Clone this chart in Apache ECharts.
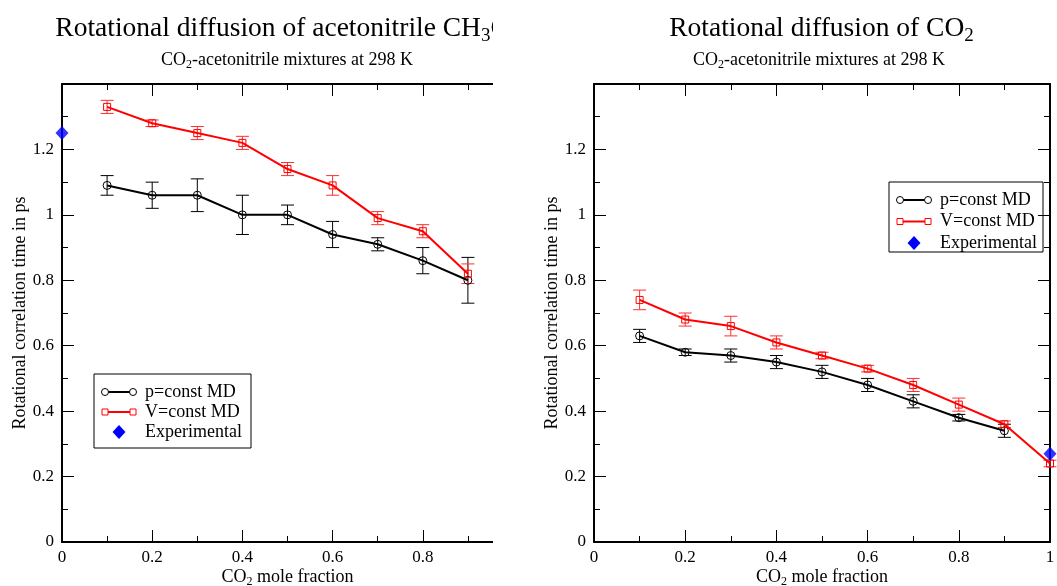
<!DOCTYPE html>
<html>
<head>
<meta charset="utf-8">
<title>Rotational diffusion</title>
<script src="https://cdn.jsdelivr.net/npm/echarts@6/dist/echarts.min.js"></script>
<style>
body{margin:0;background:#fff;}
#leftWrap{position:absolute;left:0;top:0;width:493px;height:586px;overflow:hidden;}
#left{width:530px;height:586px;}
#right{position:absolute;left:530px;top:0;width:527px;height:586px;}
</style>
</head>
<body>
<div id="leftWrap"><div id="left"></div></div>
<div id="right"></div>
<script>
// acetonitrile panel
var xMD = [0.1, 0.2, 0.3, 0.4, 0.5, 0.6, 0.7, 0.8, 0.9];
var acnP = [1.09, 1.06, 1.06, 1.00, 1.00, 0.94, 0.91, 0.86, 0.80];
var acnPErr = [0.03, 0.04, 0.05, 0.06, 0.03, 0.04, 0.02, 0.04, 0.07];
var acnV = [1.33, 1.28, 1.25, 1.22, 1.14, 1.09, 0.99, 0.95, 0.82];
var acnVErr = [0.02, 0.01, 0.02, 0.02, 0.02, 0.03, 0.02, 0.02, 0.03];
var acnExpX = [0];
var acnExp = [1.25];

// CO2 panel
var co2P = [0.63, 0.58, 0.57, 0.55, 0.52, 0.48, 0.43, 0.38, 0.34];
var co2PErr = [0.02, 0.01, 0.02, 0.02, 0.02, 0.02, 0.02, 0.01, 0.02];
var xV2 = [0.1, 0.2, 0.3, 0.4, 0.5, 0.6, 0.7, 0.8, 0.9, 1.0];
var co2V = [0.74, 0.68, 0.66, 0.61, 0.57, 0.53, 0.48, 0.42, 0.36, 0.24];
var co2VErr = [0.03, 0.02, 0.03, 0.02, 0.01, 0.01, 0.02, 0.02, 0.01, 0.01];
var co2ExpX = [1];
var co2Exp = [0.27];

var legendNames = ['p=const MD', 'V=const MD', 'Experimental'];

var FONT = 'Liberation Serif';

function pairs(xs, ys) {
    var out = [];
    for (var i = 0; i < ys.length; i++) out.push([xs[i], ys[i]]);
    return out;
}

function errBars(xs, ys, es, color) {
    var d = [];
    for (var i = 0; i < ys.length; i++) d.push([xs[i], ys[i] - es[i], ys[i] + es[i]]);
    return {
        type: 'custom', data: d, silent: true, z: 2, clip: false,
        encode: {x: 0, y: [1, 2]},
        renderItem: function (params, api) {
            var lo = api.coord([api.value(0), api.value(1)]);
            var hi = api.coord([api.value(0), api.value(2)]);
            var w = 6.5, st = {stroke: color, lineWidth: 1};
            return {type: 'group', children: [
                {type: 'line', shape: {x1: lo[0], y1: lo[1], x2: hi[0], y2: hi[1]}, style: st},
                {type: 'line', shape: {x1: lo[0] - w, y1: lo[1], x2: lo[0] + w, y2: lo[1]}, style: st},
                {type: 'line', shape: {x1: hi[0] - w, y1: hi[1], x2: hi[0] + w, y2: hi[1]}, style: st}
            ]};
        }
    };
}

function axisX(pos) {
    var a = {
        type: 'value', min: 0, max: 1, interval: 0.2, position: pos,
        axisLine: {show: true, onZero: false, lineStyle: {color: '#000', width: 2}},
        axisTick: {show: true, inside: true, length: 12, lineStyle: {color: '#000', width: 1}},
        minorTick: {show: true, splitNumber: 2, length: 6, lineStyle: {color: '#000', width: 1}},
        splitLine: {show: false},
        axisLabel: {show: pos == 'bottom', color: '#000', fontFamily: FONT, fontSize: 17, margin: 7}
    };
    if (pos == 'bottom') {
        a.name = '{a|CO}{s|2}{a| mole fraction}';
        a.nameLocation = 'middle';
        a.nameGap = 24;
        a.nameMoveOverlap = false;
        a.nameTextStyle = {rich: {
            a: {fontFamily: FONT, fontSize: 18, color: '#000'},
            s: {fontFamily: FONT, fontSize: 12, color: '#000', padding: [10, 0, 0, 0]}
        }};
    }
    return a;
}

function axisY(pos) {
    var a = {
        type: 'value', min: 0, max: 1.4, interval: 0.2, position: pos,
        axisLine: {show: true, onZero: false, lineStyle: {color: '#000', width: 2}},
        axisTick: {show: true, inside: true, length: 12, lineStyle: {color: '#000', width: 1}},
        minorTick: {show: true, splitNumber: 2, length: 6, lineStyle: {color: '#000', width: 1}},
        splitLine: {show: false},
        axisLabel: {show: pos == 'left', showMaxLabel: false, color: '#000', fontFamily: FONT, fontSize: 17, margin: 8}
    };
    if (pos == 'left') {
        a.name = 'Rotational correlation time in ps';
        a.nameLocation = 'middle';
        a.nameGap = 33;
        a.nameMoveOverlap = false;
        a.nameTextStyle = {fontFamily: FONT, fontSize: 18, color: '#000'};
    }
    return a;
}

function legendBox(x, y, w, h, rowGap) {
    var items = [];
    items.push({type: 'rect', shape: {x: x, y: y, width: w, height: h},
        style: {fill: '#fff', stroke: '#000', lineWidth: 1}});
    var sx = x + 11, ex = x + 39, tx = x + 51;
    var r1 = y + 18, r2 = r1 + rowGap, r3 = r2 + rowGap;
    items.push({type: 'line', shape: {x1: sx, y1: r1, x2: ex, y2: r1}, style: {stroke: '#000', lineWidth: 2}});
    items.push({type: 'circle', shape: {cx: sx, cy: r1, r: 3.5}, style: {fill: '#fff', stroke: '#000', lineWidth: 1}});
    items.push({type: 'circle', shape: {cx: ex, cy: r1, r: 3.5}, style: {fill: '#fff', stroke: '#000', lineWidth: 1}});
    items.push({type: 'line', shape: {x1: sx, y1: r2, x2: ex, y2: r2}, style: {stroke: '#f00', lineWidth: 2}});
    items.push({type: 'rect', shape: {x: sx - 3, y: r2 - 3, width: 6, height: 6}, style: {fill: '#fff', stroke: '#f00', lineWidth: 1}});
    items.push({type: 'rect', shape: {x: ex - 3, y: r2 - 3, width: 6, height: 6}, style: {fill: '#fff', stroke: '#f00', lineWidth: 1}});
    items.push({type: 'polygon', shape: {points: [[(sx + ex) / 2, r3 - 7], [(sx + ex) / 2 + 6.5, r3], [(sx + ex) / 2, r3 + 7], [(sx + ex) / 2 - 6.5, r3]]},
        style: {fill: '#0000ff'}});
    var rows = [r1, r2, r3];
    for (var i = 0; i < 3; i++) {
        items.push({type: 'text', x: tx, y: rows[i], style: {text: legendNames[i], font: '18px "' + FONT + '"',
            fill: '#000', verticalAlign: 'middle', align: 'left'}});
    }
    return {type: 'group', z: 100, children: items};
}

function buildOption(cfg) {
    return {
        backgroundColor: '#fff',
        animation: false,
        title: [{
            text: cfg.title, left: cfg.center, textAlign: 'center', top: 7,
            textStyle: {fontWeight: 'normal', rich: {
                a: {fontFamily: FONT, fontSize: 27.5, fontWeight: 'normal', color: '#000'},
                s: {fontFamily: FONT, fontSize: 19, fontWeight: 'normal', color: '#000', padding: [15, 0, 0, 0]}
            }}
        }, {
            text: '{a|CO}{s|2}{a|-acetonitrile mixtures at 298 K}', left: cfg.center2, textAlign: 'center', top: 45,
            textStyle: {fontWeight: 'normal', rich: {
                a: {fontFamily: FONT, fontSize: 18, fontWeight: 'normal', color: '#000'},
                s: {fontFamily: FONT, fontSize: 12, fontWeight: 'normal', color: '#000', padding: [9, 0, 0, 0]}
            }}
        }],
        grid: {left: cfg.gl, right: cfg.gr, top: 84, bottom: 44, containLabel: false, outerBoundsMode: 'none'},
        xAxis: [axisX('bottom'), axisX('top')],
        yAxis: [axisY('left'), axisY('right')],
        graphic: [legendBox(cfg.lx, cfg.ly, cfg.lw, cfg.lh, cfg.rg)],
        series: [
            errBars(cfg.xp, cfg.p, cfg.pe, '#000'),
            errBars(cfg.xv, cfg.v, cfg.ve, '#ff3030'),
            {
                type: 'line', data: pairs(cfg.xp, cfg.p), z: 3, clip: false,
                symbol: 'circle', symbolSize: 8,
                itemStyle: {color: 'rgba(0,0,0,0)', borderColor: '#000', borderWidth: 1},
                lineStyle: {color: '#000', width: 2}
            },
            {
                type: 'line', data: pairs(cfg.xv, cfg.v), z: 4, clip: false,
                symbol: 'rect', symbolSize: 7,
                itemStyle: {color: 'rgba(0,0,0,0)', borderColor: '#f00', borderWidth: 1},
                lineStyle: {color: '#f00', width: 2}
            },
            {
                type: 'scatter', data: pairs(cfg.xe, cfg.e), z: 5, clip: false,
                symbol: 'diamond', symbolSize: [13, 14],
                itemStyle: {color: '#0000ff'}
            }
        ]
    };
}

var leftChart = echarts.init(document.getElementById('left'));
var rightChart = echarts.init(document.getElementById('right'));

leftChart.setOption(buildOption({
    title: '{a|Rotational diffusion of acetonitrile CH}{s|3}{a|CN}', center: 287, center2: 282,
    gl: 62, gr: 17,
    xp: xMD, p: acnP, pe: acnPErr, xv: xMD, v: acnV, ve: acnVErr, xe: acnExpX, e: acnExp,
    lx: 94, ly: 374, lw: 157, lh: 74, rg: 20
}));

rightChart.setOption(buildOption({
    title: '{a|Rotational diffusion of CO}{s|2}', center: 286.5, center2: 284,
    gl: 64, gr: 7,
    xp: xMD, p: co2P, pe: co2PErr, xv: xV2, v: co2V, ve: co2VErr, xe: co2ExpX, e: co2Exp,
    lx: 359, ly: 182, lw: 154, lh: 70, rg: 21.5
}));

window.addEventListener('resize', function () {
    leftChart.resize();
    rightChart.resize();
});
</script>
</body>
</html>
